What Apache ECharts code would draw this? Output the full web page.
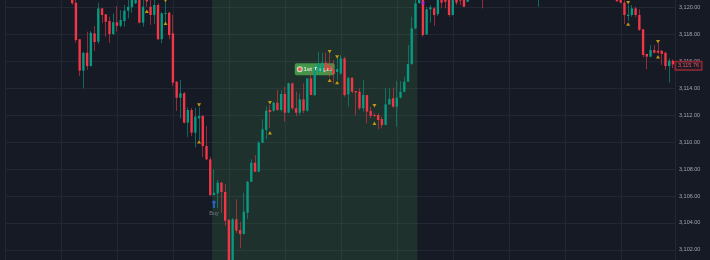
<!DOCTYPE html>
<html><head><meta charset="utf-8">
<script src="https://cdn.jsdelivr.net/npm/echarts@6.0.0/dist/echarts.min.js"></script>
<style>html,body{margin:0;padding:0;background:#161a25;}#c{width:710px;height:260px;}</style>
</head><body><div id="c"></div>
<script>
// ---- data (bar index, OHLC) ----
const candleIndex = [0,1,2,3,4,5,6,7,8,9,10,11,12,13,14,15,16,17,18,19,20,21,22,23,24,25,26,27,28,29,30,31,32,33,34,35,36,37,38,39,40,41,42,43,44,45,46,47,48,49,50,51,52,53,54,55,56,57,58,59,60,61,62,63,64,65,66,67,68,69,70,71,72,73,74,75,76,77,78,79,80,81,82,83,84,85,86,87,88,89,90,91,92,93,94,95,96,97,98,99,100,101,102,103,104,105,106,110,125,146,147,148,149,150,151,152,153,154,155,156,157,158,159,160,161];
const openPrice = [3120.91,3120.34,3117.63,3115.30,3116.63,3115.64,3118.07,3117.45,3119.92,3119.48,3118.98,3118.02,3118.89,3118.63,3118.98,3119.75,3120.00,3120.30,3120.69,3118.86,3120.69,3120.04,3119.43,3120.17,3117.63,3119.50,3119.60,3118.07,3114.48,3113.29,3113.62,3111.44,3112.38,3110.70,3111.76,3111.94,3109.71,3108.72,3106.07,3106.20,3106.99,3106.30,3104.22,3100.88,3104.27,3103.48,3103.18,3104.76,3107.06,3108.47,3107.80,3109.95,3110.90,3112.38,3112.33,3112.92,3112.38,3113.57,3112.18,3114.36,3112.51,3112.18,3113.17,3112.33,3114.73,3113.49,3115.22,3115.22,3115.89,3115.72,3115.40,3115.20,3115.10,3116.21,3113.54,3114.78,3113.79,3113.74,3112.51,3113.49,3112.31,3112.01,3112.01,3111.71,3111.27,3112.80,3113.25,3112.63,3113.29,3113.74,3114.48,3115.79,3118.44,3120.32,3120.76,3117.99,3119.85,3119.92,3119.50,3120.69,3120.76,3120.61,3119.43,3120.69,3121.00,3120.76,3120.41,3121.50,3121.30,3120.90,3120.80,3120.34,3119.35,3119.43,3119.92,3119.43,3118.37,3116.54,3116.34,3116.83,3116.78,3116.78,3116.63,3115.64,3116.04];
const closePrice = [3120.30,3117.57,3115.30,3116.63,3115.64,3118.11,3117.42,3119.92,3119.43,3118.93,3118.02,3118.89,3118.63,3119.06,3119.75,3120.04,3120.69,3120.76,3118.86,3120.04,3120.43,3119.43,3120.17,3117.63,3119.55,3119.58,3117.94,3114.41,3113.29,3113.62,3111.44,3112.38,3110.70,3111.88,3111.94,3109.71,3108.72,3106.07,3106.24,3106.99,3106.30,3104.17,3100.88,3104.27,3103.43,3103.18,3104.84,3107.06,3108.47,3107.80,3109.95,3110.95,3112.33,3112.23,3112.92,3112.38,3113.57,3112.18,3114.36,3112.51,3112.18,3113.17,3112.33,3114.73,3113.49,3115.35,3115.83,3115.89,3115.35,3115.35,3115.05,3115.42,3116.21,3113.49,3114.78,3113.74,3113.69,3112.51,3113.49,3112.26,3111.96,3111.96,3111.64,3111.27,3112.80,3113.20,3112.63,3113.29,3113.74,3114.48,3115.79,3118.44,3120.30,3120.76,3117.94,3119.85,3120.00,3119.43,3120.69,3120.34,3120.41,3119.43,3120.69,3120.34,3120.50,3120.04,3120.76,3121.00,3121.80,3120.45,3120.34,3119.43,3119.45,3119.92,3119.43,3118.32,3116.46,3116.34,3116.83,3116.63,3116.63,3116.54,3115.64,3116.04,3115.76];
const lowPrice = [3120.19,3117.37,3114.90,3113.99,3115.35,3115.61,3116.78,3117.28,3118.83,3117.82,3117.37,3117.94,3118.19,3118.51,3118.56,3119.18,3119.60,3120.24,3118.81,3118.56,3120.02,3118.69,3118.76,3117.57,3117.33,3118.91,3117.63,3114.16,3112.31,3111.76,3111.39,3110.38,3110.45,3109.61,3110.15,3108.89,3108.67,3106.00,3106.04,3105.11,3104.74,3103.78,3100.66,3100.66,3103.26,3102.12,3103.15,3104.29,3107.04,3107.78,3107.78,3109.93,3110.21,3111.04,3112.26,3112.34,3112.26,3111.51,3112.14,3112.38,3111.94,3112.01,3112.14,3112.26,3113.49,3113.42,3114.98,3115.20,3115.10,3114.81,3114.36,3114.61,3114.98,3113.37,3112.63,3113.62,3112.01,3112.38,3112.26,3111.39,3111.76,3111.88,3110.97,3111.02,3111.27,3112.75,3112.55,3111.14,3113.25,3113.69,3114.46,3115.72,3118.37,3120.24,3117.82,3117.94,3118.86,3118.61,3119.35,3119.92,3119.92,3119.30,3119.39,3120.17,3120.17,3120.04,3120.41,3119.92,3120.04,3120.40,3120.30,3118.76,3119.00,3119.30,3119.26,3118.26,3116.29,3115.40,3116.29,3116.58,3116.54,3115.72,3115.35,3114.41,3115.48];
const highPrice = [3121.13,3120.54,3117.65,3116.68,3118.19,3118.24,3118.61,3120.34,3119.95,3119.50,3119.30,3119.55,3120.09,3119.80,3120.17,3120.60,3120.91,3120.99,3120.91,3120.54,3120.91,3120.54,3120.60,3120.30,3119.65,3120.60,3119.65,3119.43,3114.53,3114.61,3113.72,3112.58,3112.53,3112.53,3112.58,3112.01,3111.19,3108.92,3107.98,3107.19,3107.04,3106.89,3104.29,3104.37,3105.76,3104.09,3106.24,3107.11,3108.72,3109.04,3110.08,3111.69,3112.63,3112.75,3113.00,3113.86,3113.86,3114.11,3114.41,3114.41,3113.74,3113.62,3114.36,3114.73,3115.35,3115.72,3116.68,3116.63,3116.63,3116.59,3116.09,3116.21,3116.46,3116.33,3114.78,3114.78,3113.79,3113.99,3114.61,3113.49,3112.63,3112.14,3112.14,3111.88,3113.99,3113.99,3114.04,3114.53,3114.53,3114.85,3117.20,3119.30,3120.69,3120.99,3120.91,3120.04,3120.17,3120.04,3120.91,3120.91,3120.91,3120.84,3120.91,3120.91,3121.20,3120.91,3120.99,3121.80,3122.00,3121.10,3121.00,3120.50,3120.17,3120.17,3120.04,3119.85,3118.37,3116.54,3117.20,3117.20,3117.33,3116.83,3116.70,3116.21,3116.13];

// signal markers
const topSignalIndex = [25,34,53,69,71,81,149,157];
const topSignalPrice = [3120.50,3112.75,3112.92,3116.70,3116.31,3112.70,3120.34,3117.45];
const bottomSignalIndex = [20,25,34,53,69,71,81,149,157];
const bottomSignalPrice = [3119.70,3118.81,3110.03,3110.70,3114.58,3114.42,3111.39,3118.76,3116.33];
const exitSignalIndex = [94];
const exitSignalPrice = [3120.32];
const buyIndex = [38];
const buyArrowPrice = [3105.40];
const buyTextPrice = [3104.74];
const targetIndex = [65];
const targetPrice = [3115.41];
const targetText = '1st Target';
const zoneStart = 37.5, zoneEnd = 92.5;
const lastPrice = 3115.76;

// y axis ticks
const yMin = 3100, yMax = 3122, yStep = 2;

function fmt(v){
  const s = v.toFixed(2); const p = s.split('.');
  return p[0].replace(/\B(?=(\d{3})+(?!\d))/g, ',') + '.' + p[1];
}

const candles = candleIndex.map((x,k)=>[x, openPrice[k], closePrice[k], lowPrice[k], highPrice[k]]);
const UP='#089981', DOWN='#f23645';
const WICK_UP='rgba(8,153,129,0.62)', WICK_DOWN='rgba(242,54,69,0.58)';
const FONT='Liberation Sans, Arial, sans-serif';

const chart = echarts.init(document.getElementById('c'), null, {renderer:'canvas'});
chart.setOption({
  backgroundColor:'#161a25',
  animation:false,
  grid:{left:5.4, right:34.5, top:-19.66, bottom:-16.9, containLabel:false, outerBoundsMode:'none'},
  xAxis:[
    {type:'value', min:-17.9, max:161.69, axisLine:{show:false}, axisTick:{show:false}, axisLabel:{show:false}, splitLine:{show:false}},
    {type:'value', min:0, max:11.972, interval:1, axisLine:{show:false}, axisTick:{show:false}, axisLabel:{show:false}, splitLine:{show:true, lineStyle:{color:'#232734', width:1}}}
  ],
  yAxis:{type:'value', position:'right', min:yMin, max:yMax, interval:yStep,
    axisLine:{show:false}, axisTick:{show:false},
    axisLabel:{formatter:fmt, color:'#a3a6af', fontSize:5.5, margin:3.5, fontFamily:FONT},
    splitLine:{show:true, lineStyle:{color:'#232734', width:1}}},
  series:[
    {type:'line', data:[[161,lastPrice]], z:0, silent:true, showSymbol:false, lineStyle:{width:0},
      markArea:{silent:true, itemStyle:{color:'rgba(76,175,80,0.16)'}, data:[[{xAxis:zoneStart},{xAxis:zoneEnd}]]}},
    {type:'scatter', z:1, silent:true, data:targetIndex.map((x,k)=>[x,targetPrice[k]]), symbolSize:0,
      label:{show:true, position:'inside', formatter:'{i|}{t| '+targetText+'}', backgroundColor:'#4caf50', borderRadius:2, padding:[2,3,2,3],
        rich:{i:{width:4,height:4,backgroundColor:'#ef5350',borderRadius:3,borderColor:'#f0f0f0',borderWidth:1},
              t:{color:'#ffffff',fontSize:6,fontWeight:'bold',lineHeight:8,fontFamily:FONT}}}},
    {type:'custom', z:2, silent:true, encode:{x:0, y:[1,2,3,4]}, data:candles,
      renderItem:function(params, api){
        const x=api.value(0), o=api.value(1), c=api.value(2), l=api.value(3), h=api.value(4);
        const pO=api.coord([x,o]), pC=api.coord([x,c]), pL=api.coord([x,l]), pH=api.coord([x,h]);
        const w=api.size([1,0])[0]*0.64;
        const up=c>=o;
        const wx=Math.round(pO[0]-0.5)+0.5;
        const top=Math.min(pO[1],pC[1]);
        let hg=Math.abs(pO[1]-pC[1]); if(hg<1) hg=1;
        return {type:'group', children:[
          {type:'line', shape:{x1:wx,y1:pH[1],x2:wx,y2:pL[1]}, style:{stroke:up?WICK_UP:WICK_DOWN, lineWidth:1}},
          {type:'rect', shape:{x:pO[0]-w/2, y:top, width:w, height:hg}, style:{fill:up?UP:DOWN}}
        ]};
      }},
    {type:'line', data:[[161,lastPrice]], z:6, silent:true, showSymbol:false, lineStyle:{width:0},
      markLine:{silent:true, symbol:['none','none'], lineStyle:{color:'rgba(0,0,0,0)', width:0},
        data:[{yAxis:lastPrice}],
        label:{show:true, position:'end', distance:0, offset:[0,1.3], formatter:fmt(lastPrice), color:'#f2545f', fontSize:5.5, lineHeight:6,
          fontFamily:FONT, borderColor:'#9c2b37', borderWidth:1, padding:[1,2.5,1,2.5], backgroundColor:'rgba(22,26,37,0.45)'}}},
    {type:'scatter', z:3, silent:true, data:topSignalIndex.map((x,k)=>[x,topSignalPrice[k]]), symbol:'triangle', symbolRotate:180, symbolSize:[4,3.5], itemStyle:{color:'#e9b10c'}},
    {type:'scatter', z:3, silent:true, data:bottomSignalIndex.map((x,k)=>[x,bottomSignalPrice[k]]), symbol:'triangle', symbolSize:[4,3.5], itemStyle:{color:'#e9b10c'}},
    {type:'scatter', z:3, silent:true, data:exitSignalIndex.map((x,k)=>[x,exitSignalPrice[k]]), symbol:'rect', symbolSize:[3,3], itemStyle:{color:'#a020f0'}},
    {type:'scatter', z:3, silent:true, data:buyIndex.map((x,k)=>[x,buyArrowPrice[k]]), symbol:'path://M5,0 L10,5 L6.8,5 L6.8,14 L3.2,14 L3.2,5 L0,5 Z', symbolSize:[5,8], itemStyle:{color:'#2f6bff'}},
    {type:'scatter', z:3, silent:true, data:buyIndex.map((x,k)=>[x,buyTextPrice[k]]), symbolSize:0,
      label:{show:true, position:'inside', formatter:'Buy', color:'#8e919a', fontSize:5.5, fontFamily:FONT}}
  ]
});
</script></body></html>
